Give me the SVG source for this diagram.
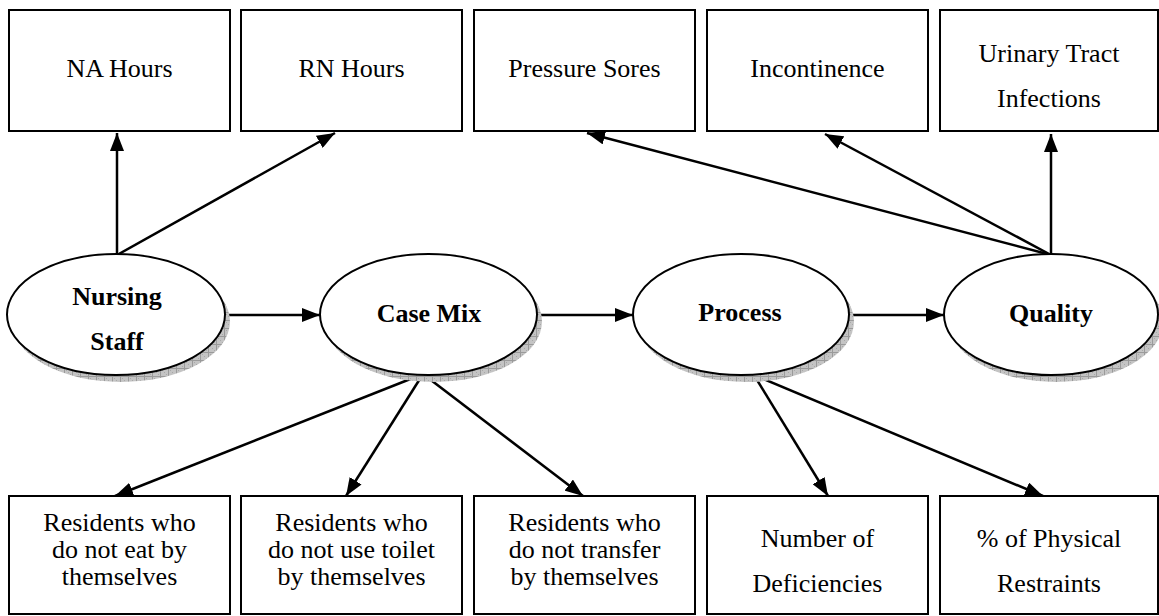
<svg xmlns="http://www.w3.org/2000/svg" width="1159" height="616" viewBox="0 0 1159 616" font-family="'Liberation Serif', 'Times New Roman', serif">
<defs>
<style>
.box{fill:#fff;stroke:#000;stroke-width:2}
.ell{fill:#fff;stroke:#000;stroke-width:2}
.shadow{fill:url(#hatch)}
text{font-family:'Liberation Serif','Times New Roman',serif;font-size:26px;fill:#000;text-anchor:middle}
.b{font-weight:bold}
.c{stroke:#000;stroke-width:2.5;fill:none;marker-end:url(#arr)}
</style>
<pattern id="hatch" width="8" height="8" patternUnits="userSpaceOnUse">
<rect width="8" height="8" fill="#c4c4c4"/>
<rect x="0" y="0" width="1" height="1" fill="#a8a8a8"/>
<rect x="2" y="2" width="1" height="1" fill="#a8a8a8"/>
<rect x="4" y="4" width="1" height="1" fill="#a8a8a8"/>
<rect x="6" y="6" width="1" height="1" fill="#a8a8a8"/>
<path d="M0,0.5H8M0.5,0V8" stroke="#9a9a9a" stroke-width="1"/>
</pattern>
<marker id="arr" markerUnits="userSpaceOnUse" markerWidth="18" markerHeight="14" refX="18" refY="7" orient="auto">
<path d="M0,0 L18,7 L0,14 z" fill="#000"/>
</marker>
</defs>
<rect width="1159" height="616" fill="#fff"/>

<g id="connectors">
<line class="c" x1="117" y1="255" x2="117" y2="133"/>
<line class="c" x1="117" y1="255" x2="335" y2="133"/>
<line class="c" x1="1051" y1="255" x2="1051" y2="134"/>
<line class="c" x1="1051" y1="255" x2="587" y2="133"/>
<line class="c" x1="1051" y1="255" x2="825" y2="134"/>
<line class="c" x1="225" y1="315" x2="320" y2="315"/>
<line class="c" x1="537" y1="315" x2="633" y2="315"/>
<line class="c" x1="849" y1="315" x2="944" y2="315"/>
<line class="c" x1="423" y1="374" x2="115" y2="496"/>
<line class="c" x1="423" y1="374" x2="346" y2="496"/>
<line class="c" x1="423" y1="374" x2="583" y2="496"/>
<line class="c" x1="754" y1="375" x2="828" y2="496"/>
<line class="c" x1="754" y1="375" x2="1043" y2="496"/>
</g>

<g id="na-hours"><rect class="box" x="9" y="10" width="221" height="121"/><text x="119.5" y="77">NA Hours</text></g>
<g id="rn-hours"><rect class="box" x="241" y="10" width="221" height="121"/><text x="351.5" y="77">RN Hours</text></g>
<g id="pressure-sores"><rect class="box" x="474" y="10" width="221" height="121"/><text x="584.5" y="77">Pressure Sores</text></g>
<g id="incontinence"><rect class="box" x="707" y="10" width="221" height="121"/><text x="817.5" y="77">Incontinence</text></g>
<g id="uti"><rect class="box" x="940" y="10" width="218" height="121"/><text x="1049" y="62">Urinary Tract</text><text x="1049" y="107">Infections</text></g>

<g id="nursing-staff"><ellipse class="shadow" cx="121" cy="321.5" rx="109" ry="60.5"/><ellipse class="ell" cx="116" cy="314.5" rx="109" ry="60.5"/><text class="b" x="117" y="305">Nursing</text><text class="b" x="117" y="350">Staff</text></g>
<g id="case-mix"><ellipse class="shadow" cx="433.5" cy="321.5" rx="108.5" ry="60.5"/><ellipse class="ell" cx="428.5" cy="314.5" rx="108.5" ry="60.5"/><text class="b" x="429" y="322">Case Mix</text></g>
<g id="process"><ellipse class="shadow" cx="746" cy="321.5" rx="108" ry="60.5"/><ellipse class="ell" cx="741" cy="314.5" rx="108" ry="60.5"/><text class="b" x="740" y="321">Process</text></g>
<g id="quality"><ellipse class="shadow" cx="1056" cy="321.5" rx="107" ry="60.5"/><ellipse class="ell" cx="1051" cy="314.5" rx="107" ry="60.5"/><text class="b" x="1051" y="322">Quality</text></g>

<g id="eat"><rect class="box" x="9" y="496" width="221" height="118"/><text x="119.5" y="531">Residents who</text><text x="119.5" y="558">do not eat by</text><text x="119.5" y="585">themselves</text></g>
<g id="toilet"><rect class="box" x="241" y="496" width="221" height="118"/><text x="351.5" y="531">Residents who</text><text x="351.5" y="558">do not use toilet</text><text x="351.5" y="585">by themselves</text></g>
<g id="transfer"><rect class="box" x="474" y="496" width="221" height="118"/><text x="584.5" y="531">Residents who</text><text x="584.5" y="558">do not transfer</text><text x="584.5" y="585">by themselves</text></g>
<g id="deficiencies"><rect class="box" x="707" y="496" width="221" height="118"/><text x="817.5" y="547">Number of</text><text x="817.5" y="592">Deficiencies</text></g>
<g id="restraints"><rect class="box" x="940" y="496" width="218" height="118"/><text x="1049" y="547">% of Physical</text><text x="1049" y="592">Restraints</text></g>
</svg>
